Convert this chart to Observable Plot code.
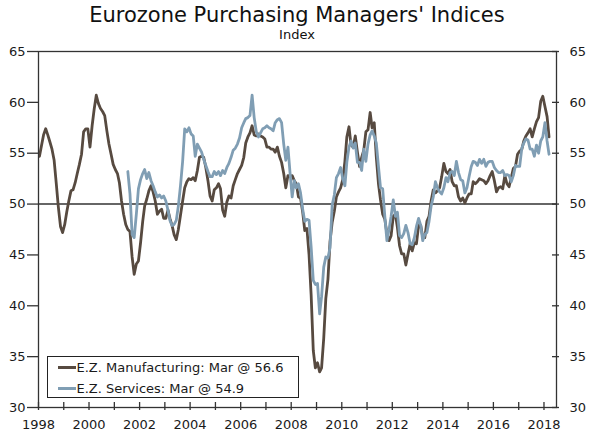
<!DOCTYPE html>
<html>
<head>
<meta charset="utf-8">
<script src="https://cdn.jsdelivr.net/npm/d3@7"></script>
<script src="https://cdn.jsdelivr.net/npm/@observablehq/plot@0.6"></script>
<style>
  html, body { margin: 0; padding: 0; background: #fff; }
  #wrap { position: relative; width: 600px; height: 444px; overflow: hidden; font-family: "DejaVu Sans", Verdana, sans-serif; color: #111; }
  #title { position: absolute; left: 38px; width: 518px; top: 5px; text-align: center; font-size: 21px; line-height: 21px; white-space: nowrap; }
  #subtitle { position: absolute; left: 38px; width: 518px; top: 28px; text-align: center; font-size: 13px; line-height: 13px; }
  #chart { position: absolute; left: 0; top: 0; }
  #legend { position: absolute; left: 46.5px; top: 355.5px; width: 250px; height: 40px; border: 1.3px solid #222; background: #fff; box-sizing: content-box; }
  .item { position: absolute; left: 10px; height: 20px; display: flex; align-items: center; font-size: 13px; white-space: nowrap; color: #1a1a1a; }
  .sw { width: 18px; height: 3px; margin-right: 1px; }
</style>
</head>
<body>
<div id="wrap">
  <div id="chart"></div>
  <div id="title"></div>
  <div id="subtitle"></div>
  <div id="legend"></div>
</div>
<script>
// ---- Data (monthly index values) ----
const titleText = "Eurozone Purchasing Managers' Indices";
const subtitleText = "Index";
const seriesNames = ["E.Z. Manufacturing", "E.Z. Services"];
const legendLabels = ["E.Z. Manufacturing: Mar @ 56.6", "E.Z. Services: Mar @ 54.9"];
const seriesColors = ["#574a40", "#809eb4"];

// Manufacturing: Jan 1998 - Mar 2018
const mfgStart = [1998, 1];
const mfgValues = [
  54.7, 55.8, 56.8, 57.4, 56.8, 56.1, 55.4, 54.3, 52.0, 49.7, 47.8, 47.2, // 1998
  48.0, 49.3, 50.3, 51.3, 51.4, 52.1, 53.0, 53.9, 54.9, 57.1, 57.4, 57.4, // 1999
  55.6, 57.7, 59.3, 60.7, 59.9, 59.4, 59.1, 58.7, 57.2, 55.9, 54.9, 53.9, // 2000
  53.4, 53.0, 52.1, 50.3, 49.0, 48.0, 47.5, 47.3, 44.8, 43.1, 44.1, 44.4, // 2001
  46.2, 48.3, 49.8, 50.5, 51.3, 51.8, 51.2, 50.3, 49.0, 49.3, 49.5, 48.6, // 2002
  48.6, 49.4, 48.6, 47.9, 47.0, 46.5, 47.5, 48.9, 50.3, 51.6, 52.2, 52.5, // 2003
  52.4, 52.6, 52.3, 53.3, 54.6, 54.7, 54.6, 53.6, 52.3, 50.8, 50.3, 51.4, // 2004
  51.6, 52.0, 51.5, 49.4, 48.8, 50.2, 50.8, 50.6, 51.8, 52.4, 53.0, 53.4, // 2005
  53.8, 54.6, 56.0, 56.6, 57.0, 57.7, 56.8, 56.7, 56.9, 56.7, 56.6, 56.4, // 2006
  55.6, 55.6, 55.4, 55.4, 55.1, 55.6, 54.7, 54.1, 53.0, 51.6, 52.8, 52.7, // 2007
  52.8, 52.3, 52.0, 50.7, 50.6, 49.2, 47.4, 47.6, 45.0, 41.1, 35.6, 33.9, // 2008
  34.4, 33.5, 33.9, 36.8, 40.7, 42.6, 46.3, 48.2, 49.3, 50.7, 51.2, 51.6, // 2009
  52.4, 54.2, 56.6, 57.6, 55.8, 55.6, 56.7, 55.1, 53.7, 54.6, 55.3, 57.1, // 2010
  57.3, 59.0, 57.5, 58.0, 54.6, 52.0, 50.4, 49.0, 48.5, 47.1, 46.4, 46.9, // 2011
  48.8, 49.0, 47.7, 45.9, 45.1, 45.1, 44.0, 45.1, 46.1, 45.4, 46.2, 46.1, // 2012
  47.9, 47.9, 46.8, 46.7, 48.3, 48.8, 50.3, 51.4, 51.1, 51.3, 51.6, 52.7, // 2013
  54.0, 53.2, 53.0, 53.4, 52.2, 51.8, 51.8, 50.7, 50.3, 50.6, 50.1, 50.6, // 2014
  51.0, 51.0, 52.2, 52.0, 52.2, 52.5, 52.4, 52.3, 52.0, 52.3, 52.8, 53.2, // 2015
  52.3, 51.2, 51.6, 51.7, 51.5, 52.8, 52.0, 51.7, 52.6, 53.5, 53.7, 54.9, // 2016
  55.2, 55.4, 56.2, 56.7, 57.0, 57.4, 56.6, 57.4, 58.1, 58.5, 60.1, 60.6, // 2017
  59.6, 58.6, 56.6                                                          // 2018
];

// Services: Jul 2001 - Mar 2018
const svcStart = [2001, 7];
const svcValues = [
  53.2, 51.0, 47.0, 46.7, 49.0, 51.5,                                     // 2001 (Jul-Dec)
  52.4, 53.0, 53.4, 52.5, 53.1, 52.3, 51.8, 51.2, 50.7, 50.9, 50.6, 50.8, // 2002
  50.3, 49.4, 48.4, 47.9, 48.0, 48.4, 49.8, 51.8, 54.2, 57.4, 57.1, 57.5, // 2003
  56.9, 56.7, 54.7, 55.9, 55.5, 55.1, 54.4, 53.8, 53.2, 52.7, 52.7, 53.2, // 2004
  52.9, 53.2, 52.8, 53.3, 53.0, 53.6, 54.0, 54.6, 55.3, 55.5, 55.9, 56.5, // 2005
  57.5, 58.0, 58.4, 58.5, 58.7, 60.7, 58.5, 57.1, 56.6, 57.0, 57.4, 57.5, // 2006
  57.7, 57.5, 57.4, 57.2, 58.0, 58.3, 58.4, 58.0, 55.9, 54.3, 55.6, 53.1, // 2007
  50.7, 52.3, 51.6, 52.0, 51.1, 49.5, 48.3, 48.5, 48.4, 45.8, 42.5, 42.1, // 2008
  42.2, 39.2, 40.9, 43.8, 44.8, 44.7, 45.7, 49.9, 50.9, 52.6, 53.0, 53.6, // 2009
  52.5, 51.8, 54.1, 55.6, 56.2, 55.5, 56.0, 54.1, 54.1, 53.3, 55.4, 54.2, // 2010
  55.9, 56.8, 57.2, 56.7, 56.0, 53.7, 51.6, 51.5, 48.8, 46.4, 47.5, 48.8, // 2011
  50.4, 48.8, 49.2, 46.9, 46.7, 47.1, 47.9, 47.2, 46.1, 46.0, 46.7, 47.8, // 2012
  48.6, 47.9, 46.4, 47.0, 47.2, 48.3, 49.8, 50.7, 52.2, 51.6, 51.2, 51.0, // 2013
  51.6, 52.6, 52.2, 53.1, 53.2, 52.8, 54.2, 53.1, 52.4, 52.3, 51.1, 51.6, // 2014
  52.7, 53.7, 54.2, 54.1, 53.8, 54.4, 54.0, 54.4, 53.7, 54.1, 54.2, 54.2, // 2015
  53.6, 53.3, 53.1, 53.1, 53.3, 52.8, 52.9, 52.8, 52.2, 52.8, 53.8, 53.7, // 2016
  53.7, 55.5, 56.0, 56.4, 56.3, 55.4, 55.4, 54.7, 55.8, 55.0, 56.2, 56.6, // 2017
  58.0, 56.2, 54.9                                                          // 2018
];

const yTicks = [30, 35, 40, 45, 50, 55, 60, 65];
const referenceLevel = [50];
const xTickYears = d3.range(1998, 2019);              // a tick every year
const xLabelYears = [1998, 2000, 2002, 2004, 2006, 2008, 2010, 2012, 2014, 2016, 2018];
const xDomainYears = [1998, 2018.5];

// ---- Build rows ----
function toRows(start, values, name) {
  return values.map((v, i) => ({
    date: new Date(Date.UTC(start[0], start[1] - 1 + i, 15)),
    value: v,
    series: name
  }));
}
const rows = toRows(mfgStart, mfgValues, seriesNames[0]).concat(toRows(svcStart, svcValues, seriesNames[1]));
const yearDate = y => new Date(Date.UTC(Math.floor(y), Math.round((y % 1) * 12), 1));

const axisColor = "#333";
const textColor = "#1a1a1a";

const chart = Plot.plot({
  width: 600,
  height: 444,
  marginTop: 51,
  marginBottom: 37,
  marginLeft: 38,
  marginRight: 44,
  style: { fontFamily: "'DejaVu Sans', Verdana, sans-serif", fontSize: "13px", color: textColor, background: "transparent" },
  x: { type: "utc", domain: xDomainYears.map(yearDate), label: null },
  y: { domain: [30, 65], label: null },
  color: { domain: seriesNames, range: seriesColors },
  marks: [
    Plot.ruleY(referenceLevel, { stroke: axisColor, strokeWidth: 1.5 }),
    Plot.line(rows, { x: "date", y: "value", z: "series", stroke: "series", strokeWidth: 2.8, strokeLinejoin: "round" }),
    Plot.frame({ stroke: axisColor, strokeWidth: 1.3 }),
    Plot.axisY(yTicks, { anchor: "left", tickSize: 11, tickPadding: 2, stroke: axisColor, strokeWidth: 1.3, fill: textColor, label: null }),
    Plot.axisY(yTicks, { anchor: "right", tickSize: 7, dx: -5, text: null, stroke: axisColor, strokeWidth: 1.3, label: null }),
    Plot.axisY(yTicks, { anchor: "right", tickSize: 0, tickPadding: 13, fill: textColor, label: null }),
    Plot.axisX(xTickYears.map(yearDate), { tickSize: 8, dy: -5, text: null, stroke: axisColor, strokeWidth: 1.3, label: null }),
    Plot.axisX(xLabelYears.map(yearDate), { tickSize: 0, tickPadding: 12, tickFormat: d => String(d.getUTCFullYear()), fill: textColor, label: null })
  ]
});
document.getElementById("chart").appendChild(chart);

document.getElementById("title").textContent = titleText;
document.getElementById("subtitle").textContent = subtitleText;

const legend = document.getElementById("legend");
legendLabels.forEach((lab, i) => {
  const item = document.createElement("div");
  item.className = "item";
  item.style.top = (1 + i * 21) + "px";
  const sw = document.createElement("span");
  sw.className = "sw";
  sw.style.background = seriesColors[i];
  const tx = document.createElement("span");
  tx.textContent = lab;
  item.appendChild(sw);
  item.appendChild(tx);
  legend.appendChild(item);
});
</script>
</body>
</html>
